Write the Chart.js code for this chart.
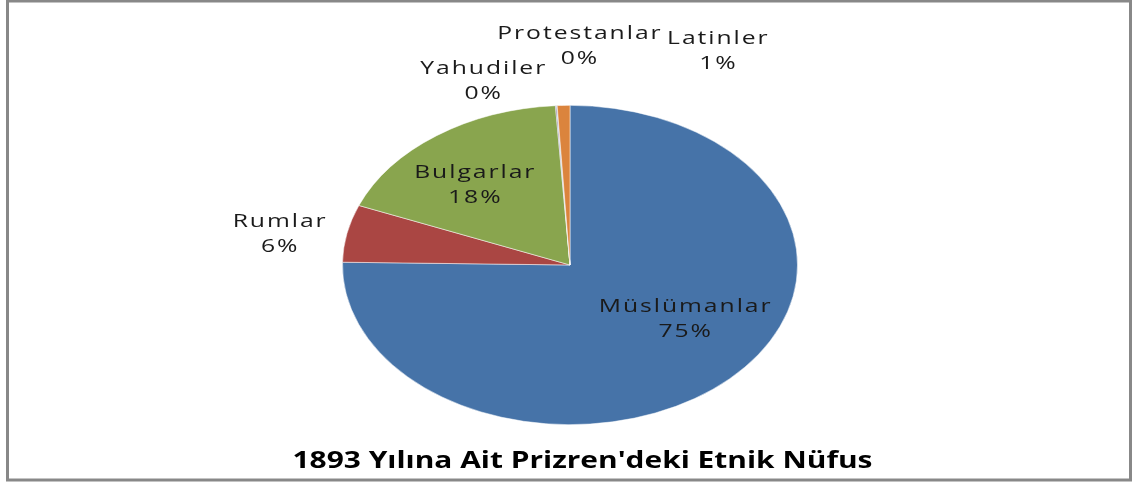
<!DOCTYPE html>
<html>
<head>
<meta charset="utf-8">
<script src="https://cdn.jsdelivr.net/npm/chart.js@4"></script>
<style>
  body { margin: 0; background: #fff; }
  canvas { display: block; }
</style>
</head>
<body>
<canvas id="pieChart" width="1133" height="482"></canvas>
<script>
const categories = ['Müslümanlar', 'Rumlar', 'Bulgarlar', 'Yahudiler', 'Protestanlar', 'Latinler'];
const shares = [75.28, 5.8, 17.9, 0.08, 0.04, 0.9];
const sliceColors = ['#4673A8', '#AA4643', '#89A54E', '#71588F', '#4198AF', '#DB843D'];
const chartTitle = "1893 Yılına Ait Prizren'deki Etnik Nüfus";

// pie is drawn as a circle, then stretched sideways into an ellipse
const stretchX = 228 / 160;
const textStretch = 1.3;

// label placement: radial factor along the slice mid angle, plus a nudge
const labelPlace = [
    { k: 0.6, dx: 20, dy: -15 },
    { k: 1.3, dx: 0, dy: 10 },
    { k: 0.68, dx: -4, dy: 8 },
    { k: 1.16, dx: -70, dy: 0 },
    { k: 1.375, dx: 28, dy: 0 },
    { k: 1.344, dx: 157, dy: 0 }
];

const total = shares.reduce((a, b) => a + b, 0);

function drawStretched(ctx, text, x, y, font, spacing, color) {
    ctx.save();
    ctx.translate(x, y);
    ctx.scale(textStretch, 1);
    ctx.font = font;
    ctx.letterSpacing = spacing;
    ctx.fillStyle = color;
    ctx.textAlign = 'center';
    ctx.textBaseline = 'middle';
    ctx.fillText(text, 0, 0);
    ctx.restore();
}

const ellipsePlugin = {
    id: 'ellipse',
    beforeDatasetsDraw(chart) {
        const ctx = chart.ctx;
        const a = chart.chartArea;
        const cx = (a.left + a.right) / 2;
        ctx.save();
        ctx.translate(cx, 0);
        ctx.scale(stretchX, 1);
        ctx.translate(-cx, 0);
    },
    afterDatasetsDraw(chart) {
        chart.ctx.restore();
    },
    afterDraw(chart) {
        const ctx = chart.ctx;
        const meta = chart.getDatasetMeta(0);
        meta.data.forEach(function (arc, i) {
            const p = arc.getProps(['x', 'y', 'startAngle', 'endAngle', 'outerRadius'], true);
            const mid = (p.startAngle + p.endAngle) / 2;
            const place = labelPlace[i];
            const px = p.x + p.outerRadius * stretchX * place.k * Math.cos(mid) + place.dx;
            const py = p.y + p.outerRadius * place.k * Math.sin(mid) + place.dy;
            const pct = Math.round(shares[i] / total * 100) + '%';
            drawStretched(ctx, categories[i], px, py - 12, '19px "Open Sans"', '1.5px', '#1a1a1a');
            drawStretched(ctx, pct, px, py + 13, '19px "Open Sans"', '1.5px', '#1a1a1a');
        });

        drawStretched(ctx, chartTitle, chart.width / 2 + 16, 461, 'bold 23px "Open Sans"', '0px', '#000');

        ctx.save();
        ctx.strokeStyle = '#888888';
        ctx.lineWidth = 3;
        ctx.strokeRect(7.5, 1, 1123, 479);
        ctx.restore();
    }
};

const ctx = document.getElementById('pieChart').getContext('2d');

const pieChart = new Chart(ctx, {
    type: 'pie',
    data: {
        labels: categories,
        datasets: [{
            data: shares,
            backgroundColor: sliceColors,
            borderColor: 'rgba(255,255,255,0.6)',
            borderWidth: 0.7,
            clip: false
        }]
    },
    options: {
        responsive: false,
        animation: false,
        events: [],
        layout: {
            padding: { left: 410, right: 403, top: 105, bottom: 57 }
        },
        plugins: {
            legend: { display: false },
            tooltip: { enabled: false },
            title: { display: false }
        }
    },
    plugins: [ellipsePlugin]
});
</script>
</body>
</html>
